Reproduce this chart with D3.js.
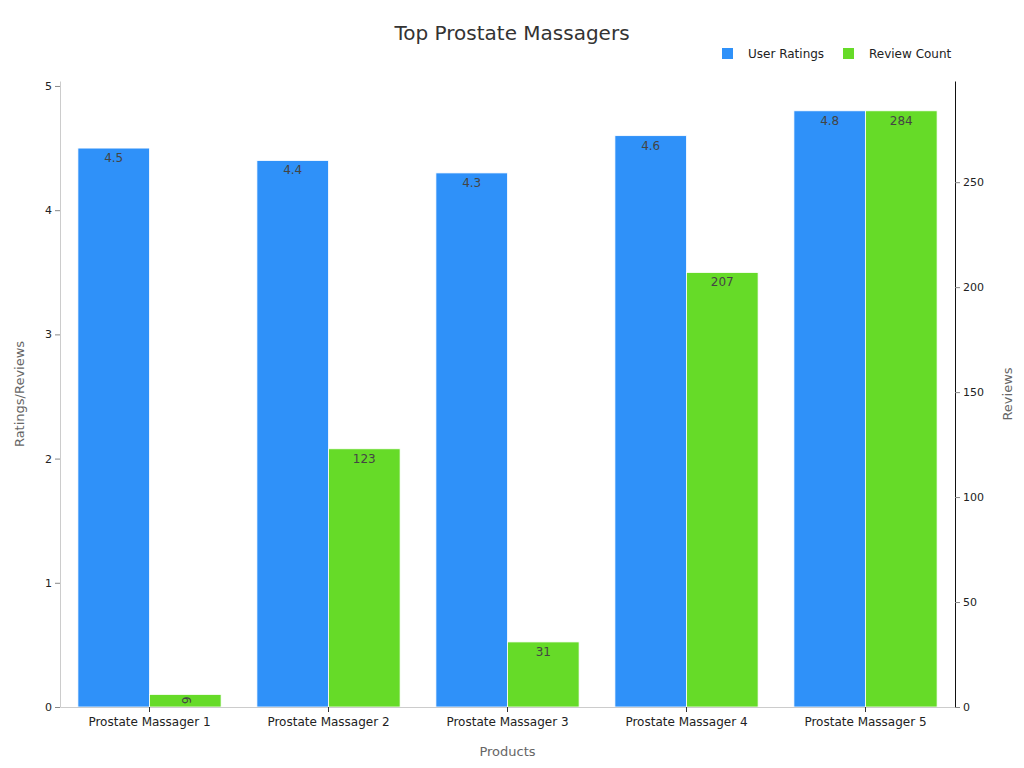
<!DOCTYPE html>
<html>
<head>
<meta charset="utf-8">
<script src="https://cdn.jsdelivr.net/npm/d3@7"></script>
<style>
  body { margin: 0; background: #fff; font-family: "DejaVu Sans", sans-serif; }
</style>
</head>
<body>
<script>
// chart data
let products = ["Prostate Massager 1", "Prostate Massager 2", "Prostate Massager 3",
                "Prostate Massager 4", "Prostate Massager 5"];
let ratings = [4.5, 4.4, 4.3, 4.6, 4.8];
let reviews = [6, 123, 31, 207, 284];
let ratingTicks = [0, 1, 2, 3, 4, 5];
let reviewTicks = [0, 50, 100, 150, 200, 250];

let w = 1024, h = 768;
let margins = {top: 81, bottom: 61, left: 60, right: 69};

let svg = d3.select("body")
            .append("svg")
            .attr("width", w)
            .attr("height", h);

// scales
let x = d3.scaleBand()
          .domain(products)
          .range([margins.left, w - margins.right])
          .paddingInner(0.2)
          .paddingOuter(0.1);

let yLeft = d3.scaleLinear()
              .domain([0, d3.max(ratings) * 1.05])
              .range([h - margins.bottom, margins.top]);

let yRight = d3.scaleLinear()
               .domain([0, d3.max(reviews) * 1.05])
               .range([h - margins.bottom, margins.top]);

let half = x.bandwidth() / 2;

// blue bars
svg.append("g")
   .selectAll("rect")
   .data(ratings)
   .enter()
   .append("rect")
   .attr("x", (d, i) => x(products[i]))
   .attr("y", d => yLeft(d))
   .attr("width", half)
   .attr("height", d => yLeft(0) - yLeft(d))
   .attr("fill", "#2f91f9")
   .attr("stroke", "#fff")
   .attr("stroke-width", 0.8);

// green bars
svg.append("g")
   .selectAll("rect")
   .data(reviews)
   .enter()
   .append("rect")
   .attr("x", (d, i) => x(products[i]) + half)
   .attr("y", d => yRight(d))
   .attr("width", half)
   .attr("height", d => yRight(0) - yRight(d))
   .attr("fill", "#66db28")
   .attr("stroke", "#fff")
   .attr("stroke-width", 0.8);

// value labels
svg.append("g")
   .selectAll("text")
   .data(ratings)
   .enter()
   .append("text")
   .attr("x", (d, i) => x(products[i]) + half / 2)
   .attr("y", d => yLeft(d) + 14)
   .attr("text-anchor", "middle")
   .attr("font-size", 12)
   .attr("fill", "#444")
   .text(d => d);

svg.append("g")
   .selectAll("text")
   .data(reviews)
   .enter()
   .append("text")
   .attr("transform", function(d, i) {
       let cx = x(products[i]) + half * 1.5;
       if (d < 20) {
           return "translate(" + cx + "," + (yRight(d) + 6) + ") rotate(90)";
       }
       return "translate(" + cx + "," + (yRight(d) + 14) + ")";
   })
   .attr("text-anchor", "middle")
   .attr("dominant-baseline", d => d < 20 ? "middle" : null)
   .attr("font-size", 12)
   .attr("fill", "#444")
   .text(d => d);

// axes
let xAxis = svg.append("g")
               .attr("transform", "translate(0," + (h - margins.bottom) + ")")
               .call(d3.axisBottom(x).tickSize(5).tickSizeOuter(0));
xAxis.select(".domain").attr("stroke", "#ccc");
xAxis.selectAll(".tick line").attr("stroke", "#333");
xAxis.selectAll(".tick text").attr("font-size", 12).attr("fill", "#222")
     .attr("font-family", "DejaVu Sans").attr("dy", "0.95em");

let leftAxis = svg.append("g")
                  .attr("transform", "translate(" + margins.left + ",0)")
                  .call(d3.axisLeft(yLeft).tickValues(ratingTicks)
                          .tickFormat(d3.format("d")).tickSize(5).tickSizeOuter(0));
leftAxis.select(".domain").attr("stroke", "#ccc");
leftAxis.selectAll(".tick line").attr("stroke", "#888");
leftAxis.selectAll(".tick text").attr("font-size", 11).attr("fill", "#222")
        .attr("font-family", "DejaVu Sans");

let rightAxis = svg.append("g")
                   .attr("transform", "translate(" + (w - margins.right) + ",0)")
                   .call(d3.axisRight(yRight).tickValues(reviewTicks).tickSize(5).tickSizeOuter(0));
rightAxis.select(".domain").attr("stroke", "#111");
rightAxis.selectAll(".tick line").attr("stroke", "#888");
rightAxis.selectAll(".tick text").attr("font-size", 11).attr("fill", "#222")
         .attr("font-family", "DejaVu Sans");

// axis titles
svg.append("text")
   .attr("transform", "translate(24," + ((h - margins.bottom + margins.top) / 2) + ") rotate(-90)")
   .attr("text-anchor", "middle")
   .attr("font-size", 13)
   .attr("fill", "#666")
   .text("Ratings/Reviews");

svg.append("text")
   .attr("transform", "translate(1012," + ((h - margins.bottom + margins.top) / 2) + ") rotate(-90)")
   .attr("text-anchor", "middle")
   .attr("font-size", 13)
   .attr("fill", "#666")
   .text("Reviews");

svg.append("text")
   .attr("x", (margins.left + w - margins.right) / 2)
   .attr("y", 756)
   .attr("text-anchor", "middle")
   .attr("font-size", 13)
   .attr("fill", "#666")
   .text("Products");

// title
svg.append("text")
   .attr("x", w / 2)
   .attr("y", 40)
   .attr("text-anchor", "middle")
   .attr("font-size", 20)
   .attr("fill", "#333")
   .text("Top Prostate Massagers");

// legend
let legend = [{name: "User Ratings", color: "#2f91f9", x: 722},
              {name: "Review Count", color: "#66db28", x: 843}];
let lg = svg.append("g");
lg.selectAll("rect")
  .data(legend)
  .enter()
  .append("rect")
  .attr("x", d => d.x)
  .attr("y", 48)
  .attr("width", 11)
  .attr("height", 11)
  .attr("fill", d => d.color);
lg.selectAll("text")
  .data(legend)
  .enter()
  .append("text")
  .attr("x", d => d.x + 26)
  .attr("y", 58)
  .attr("font-size", 12)
  .attr("fill", "#222")
  .text(d => d.name);
</script>
</body>
</html>
